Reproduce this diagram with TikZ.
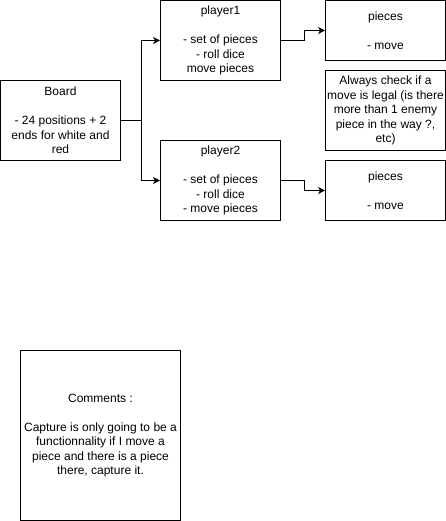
\documentclass[tikz,border=0pt]{standalone}
\usepackage{fontspec}
\setmainfont{Liberation Sans}
\usetikzlibrary{arrows.meta}

\tikzstyle{box}=[draw=black,fill=white,line width=1pt,minimum width=120pt,minimum height=80pt,inner sep=0pt,align=center,font=\fontsize{12}{14.4}\selectfont]
\tikzstyle{small}=[box,minimum height=60pt]
\tikzstyle{link}=[draw=black,line width=1pt,-{Stealth[length=7pt,width=7pt,inset=2pt]}]

\begin{document}
\begin{tikzpicture}[x=1pt,y=-1pt]

   \useasboundingbox (0,0) rectangle (446,521);

   % Board and players

   \node[box] (board) at (60.5,120.5) {Board\\~\\- 24 positions + 2\\ends for white and\\red};

   \node[box] (player1) at (220.5,40.5) {player1\\~\\- set of pieces\\- roll dice\\move pieces};
   \node[box] (player2) at (220.5,180.5) {player2\\~\\- set of pieces\\- roll dice\\- move pieces};

   % Pieces

   \node[small] (pieces1) at (385.5,30.5) {pieces\\~\\- move};
   \node[box] (check) at (385.5,110.5) {Always check if a\\move is legal (is there\\more than 1 enemy\\piece in the way ?,\\etc)};
   \node[small] (pieces2) at (385.5,190.5) {pieces\\~\\- move};

   % Comments

   \node[box,minimum width=160pt,minimum height=170pt] (comments) at (100.5,435.5) {Comments :\\~\\Capture is only going to be a\\functionnality if I move a\\piece and there is a piece\\there, capture it.};

   \draw[link] (board.east) -- ++(20,0) |- (player1.west);
   \draw[link] (board.east) -- ++(20,0) |- (player2.west);

   \draw[link] (player1.east) -- ++(23,0) |- (pieces1.west);
   \draw[link] (player2.east) -- ++(23,0) |- (pieces2.west);

\end{tikzpicture}
\end{document}
